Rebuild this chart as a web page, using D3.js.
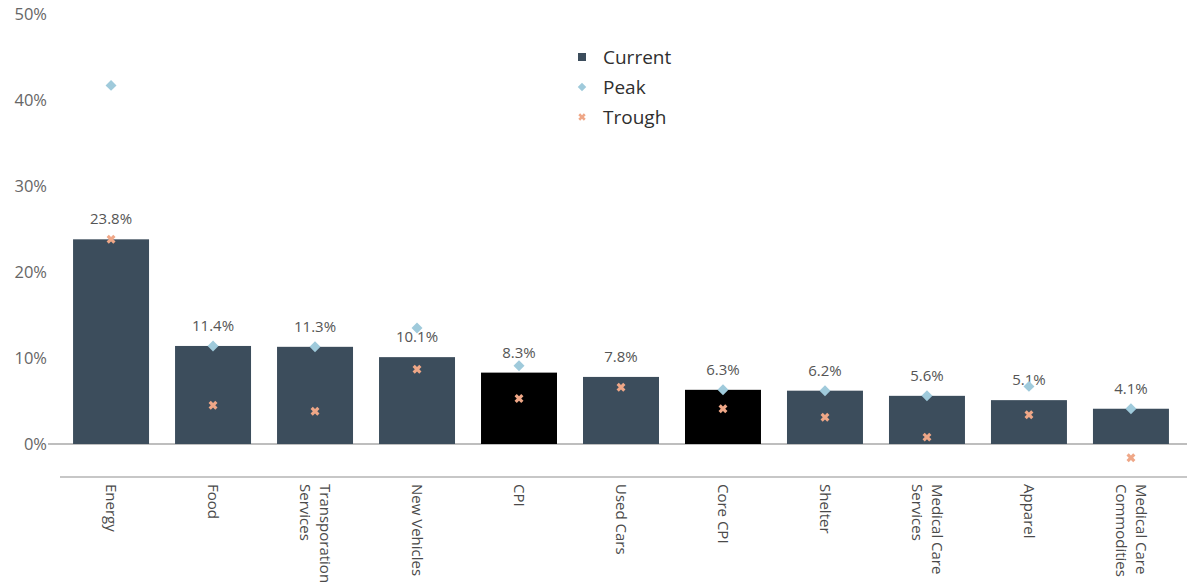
<!DOCTYPE html>
<html>
<head>
<meta charset="utf-8">
<script src="https://cdn.jsdelivr.net/npm/d3@7"></script>
<style>
  body { margin: 0; background: #fff; }
  svg { display: block; font-family: "Open Sans", sans-serif; }
</style>
</head>
<body>
<div id="chart"></div>
<script>
// --- DATA ---
const categories = ["Energy", "Food", "Transporation Services", "New Vehicles", "CPI", "Used Cars",
  "Core CPI", "Shelter", "Medical Care Services", "Apparel", "Medical Care Commodities"];
const categoryLines = [["Energy"], ["Food"], ["Transporation", "Services"], ["New Vehicles"], ["CPI"], ["Used Cars"],
  ["Core CPI"], ["Shelter"], ["Medical Care", "Services"], ["Apparel"], ["Medical Care", "Commodities"]];
const current = [23.8, 11.4, 11.3, 10.1, 8.3, 7.8, 6.3, 6.2, 5.6, 5.1, 4.1];
const peak = [41.7, 11.4, 11.3, 13.5, 9.1, null, 6.3, 6.2, 5.6, 6.7, 4.1];
const trough = [23.8, 4.5, 3.8, 8.7, 5.3, 6.6, 4.1, 3.1, 0.8, 3.4, -1.6];
const highlighted = ["CPI", "Core CPI"];
const yTicks = [0, 10, 20, 30, 40, 50];
const legendItems = ["Current", "Peak", "Trough"];

// --- CONFIG ---
const width = 1187, height = 584;
const barColor = "#3c4d5c";
const hiColor = "#000000";
const peakColor = "#9fcadb";
const troughColor = "#efa787";
const zeroY = 444;

const svg = d3.select("#chart").append("svg")
    .attr("width", width)
    .attr("height", height);

const x = d3.scaleBand()
    .domain(categories)
    .range([60, 1182])
    .paddingInner(0.255)
    .paddingOuter(0.128);

const y = d3.scaleLinear()
    .domain([0, 50])
    .range([zeroY, 14]);

// Axe Y : libellés seulement
svg.append("g")
    .selectAll("text")
    .data(yTicks)
    .join("text")
    .attr("x", 47)
    .attr("y", d => y(d))
    .attr("dy", "0.36em")
    .attr("text-anchor", "end")
    .attr("font-size", 16.5)
    .attr("fill", "#666")
    .text(d => d + "%");

// Ligne du zéro
svg.append("line")
    .attr("x1", 48).attr("x2", width)
    .attr("y1", y(0)).attr("y2", y(0))
    .attr("stroke", "#a8a8a8")
    .attr("stroke-width", 1.3);

// Barres
svg.append("g")
    .selectAll("rect")
    .data(categories)
    .join("rect")
    .attr("x", d => x(d))
    .attr("width", x.bandwidth())
    .attr("y", (d, i) => y(current[i]))
    .attr("height", (d, i) => y(0) - y(current[i]))
    .attr("fill", d => highlighted.includes(d) ? hiColor : barColor);

// Ligne du bas de l'axe X
svg.append("line")
    .attr("x1", 60).attr("x2", width)
    .attr("y1", 477).attr("y2", 477)
    .attr("stroke", "#b5b5b5")
    .attr("stroke-width", 1.6);

// Étiquettes de valeur
svg.append("g")
    .selectAll("text")
    .data(categories)
    .join("text")
    .attr("x", d => x(d) + x.bandwidth() / 2)
    .attr("y", (d, i) => y(current[i]) - 15)
    .attr("text-anchor", "middle")
    .attr("font-size", 15)
    .attr("fill", "#555")
    .text((d, i) => current[i].toFixed(1) + "%");

// Marqueurs Peak (losange)
const diamond = d3.symbol().type(d3.symbolSquare).size(60);
svg.append("g")
    .selectAll("path")
    .data(categories.filter((d, i) => peak[i] != null))
    .join("path")
    .attr("d", diamond)
    .attr("transform", d => {
        const i = categories.indexOf(d);
        return `translate(${x(d) + x.bandwidth() / 2},${y(peak[i])}) rotate(45)`;
    })
    .attr("fill", peakColor);

// Marqueurs Trough (croix)
const cross = d3.symbol().type(d3.symbolCross).size(50);
svg.append("g")
    .selectAll("path")
    .data(categories)
    .join("path")
    .attr("d", cross)
    .attr("transform", (d, i) => `translate(${x(d) + x.bandwidth() / 2},${y(trough[i])}) rotate(45)`)
    .attr("fill", troughColor);

// Libellés des catégories (verticaux)
const catLabels = svg.append("g")
    .selectAll("text")
    .data(categories)
    .join("text")
    .attr("transform", d => `translate(${x(d) + x.bandwidth() / 2},484) rotate(90)`)
    .attr("font-size", 15)
    .attr("fill", "#4a4a4a");

catLabels.each(function(d, i) {
    const lines = categoryLines[i];
    const n = lines.length;
    d3.select(this).selectAll("tspan")
        .data(lines)
        .join("tspan")
        .attr("x", 0)
        .attr("y", (l, j) => (j - (n - 1) / 2) * 20)
        .attr("dy", "0.36em")
        .text(l => l);
});

// Légende
const legendShapes = [
    d3.symbol().type(d3.symbolSquare).size(64)(),
    d3.symbol().type(d3.symbolSquare).size(36)(),
    d3.symbol().type(d3.symbolCross).size(34)()
];
const legendColors = [barColor, peakColor, troughColor];
const legendRot = [0, 45, 45];

const legend = svg.append("g")
    .selectAll("g")
    .data(legendItems)
    .join("g")
    .attr("transform", (d, i) => `translate(582,${57 + i * 30})`);

legend.append("path")
    .attr("d", (d, i) => legendShapes[i])
    .attr("transform", (d, i) => `rotate(${legendRot[i]})`)
    .attr("fill", (d, i) => legendColors[i]);

legend.append("text")
    .attr("x", 21)
    .attr("dy", "0.36em")
    .attr("font-size", 19)
    .attr("fill", "#2f2f2f")
    .text(d => d);
</script>
</body>
</html>
